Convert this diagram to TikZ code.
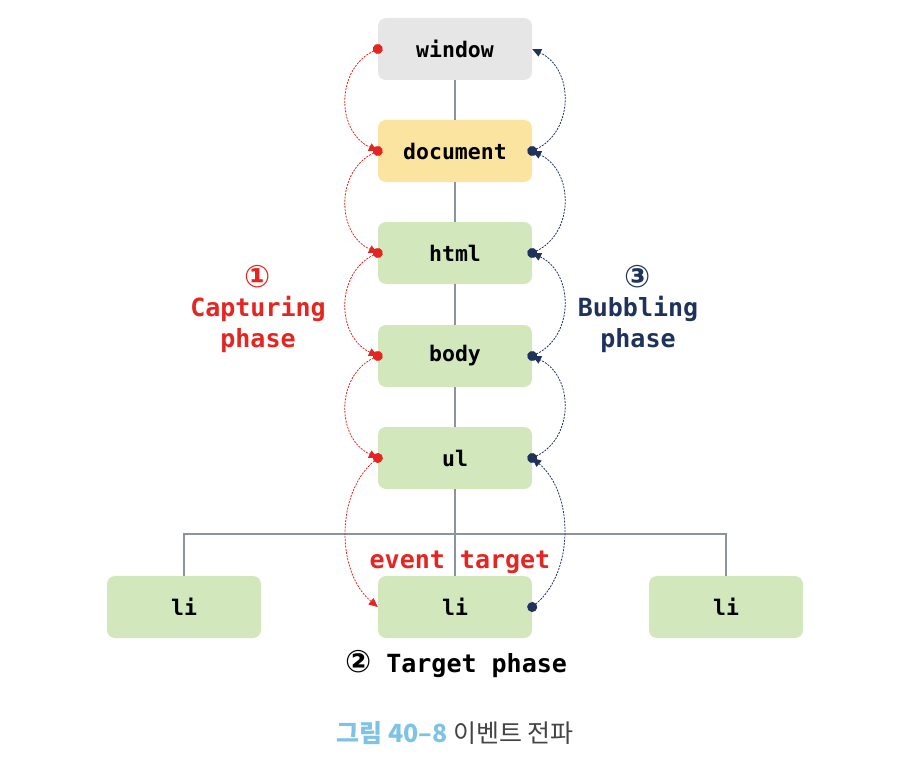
\documentclass[tikz,border=0pt]{standalone}
\usepackage{fontspec}
\setmonofont{DejaVu Sans Mono}
\newfontfamily\symfont{DejaVu Sans}
\newfontfamily\krfont{Noto Sans CJK KR}
\usetikzlibrary{arrows.meta}
\definecolor{capred}{HTML}{E52521}
\definecolor{bubnavy}{HTML}{1E325C}
\definecolor{treegray}{HTML}{8C939C}
\definecolor{wingray}{HTML}{E6E6E6}
\definecolor{docyellow}{HTML}{FBE3A0}
\definecolor{elgreen}{HTML}{D2E8BC}
\definecolor{capblue}{HTML}{7EC3E6}
\definecolor{captext}{HTML}{444444}
\newcommand{\circnum}[1]{{\fontsize{31}{31}\selectfont\symfont #1}}

\begin{document}
\begin{tikzpicture}[x=1pt, y=-1pt,
    box/.style={rounded corners=8pt, minimum width=154pt, minimum height=62pt,
        inner sep=0pt, font=\fontsize{21.5}{24}\selectfont\ttfamily\bfseries},
    tree/.style={treegray, line width=1.1pt},
    capture/.style={capred, line width=0.8pt, dash pattern=on 2pt off 1.2pt,
        {Circle[length=10pt]}-{Triangle[length=9pt, width=8pt]}, shorten <=-5pt},
    bubble/.style={bubnavy, line width=0.8pt, dash pattern=on 2pt off 1.2pt,
        {Circle[length=10pt]}-{Triangle[length=9pt, width=8pt]}, shorten <=-5pt},
    phase/.style={font=\fontsize{25}{31}\selectfont\ttfamily\bfseries, align=center}]
    \useasboundingbox (0,0) rectangle (905,765);

    % DOM nodes
    \node[box, fill=wingray] (win) at (455,49) {window};
    \node[box, fill=docyellow] (doc) at (455,151) {document};
    \node[box, fill=elgreen] (html) at (455,253) {html};
    \node[box, fill=elgreen] (body) at (455,356) {body};
    \node[box, fill=elgreen] (ul) at (455,458) {ul};
    \node[box, fill=elgreen] (li) at (455,607) {li};
    \node[box, fill=elgreen] (liL) at (184,607) {li};
    \node[box, fill=elgreen] (liR) at (726,607) {li};
    \coordinate (fork) at (455,534);

    % tree lines
    \draw[tree] (win.south) -- (doc.north);
    \draw[tree] (doc.south) -- (html.north);
    \draw[tree] (html.south) -- (body.north);
    \draw[tree] (body.south) -- (ul.north);
    \draw[tree] (ul.south) -- (li.north);
    \draw[tree] (liL.north) |- (fork) -| (liR.north);

    % capturing
    \draw[capture] (win.west) .. controls +(-42,20) and +(-42,-20) .. (doc.west);
    \draw[capture] (doc.west) .. controls +(-42,20) and +(-42,-20) .. (html.west);
    \draw[capture] (html.west) .. controls +(-42,20) and +(-42,-20) .. (body.west);
    \draw[capture] (body.west) .. controls +(-42,20) and +(-42,-20) .. (ul.west);
    \draw[capture] (ul.west) .. controls +(-42,35) and +(-42,-35) .. (li.west);

    % bubbling
    \draw[bubble] (li.east) .. controls +(42,-35) and +(42,35) .. (ul.east);
    \draw[bubble] (ul.east) .. controls +(42,-20) and +(42,20) .. (body.east);
    \draw[bubble] (body.east) .. controls +(42,-20) and +(42,20) .. (html.east);
    \draw[bubble] (html.east) .. controls +(42,-20) and +(42,20) .. (doc.east);
    \draw[bubble] (doc.east) .. controls +(42,-20) and +(42,20) .. (win.east);

    % labels
    \node[phase, capred] (capLbl) at (258,309) {\circnum{①}\\[-2pt]Capturing\\phase};
    \node[phase, bubnavy] (bubLbl) at (638,309) {\circnum{③}\\[-2pt]Bubbling\\phase};
    \node[phase, capred] (tgtLbl) at (460,562) {event target};
    \node[phase, black] (tgtPhase) at (456,664) {\circnum{②} Target phase};

    % caption
    \node[font=\fontsize{25}{30}\selectfont\krfont] (cap) at (455,733)
        {\textcolor{capblue}{\bfseries 그림 40–8} \textcolor{captext}{이벤트 전파}};
\end{tikzpicture}
\end{document}
